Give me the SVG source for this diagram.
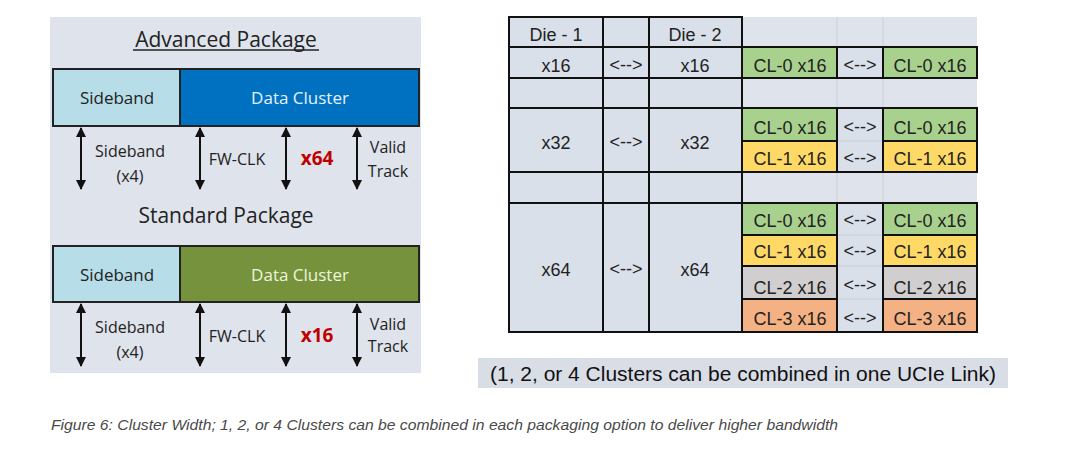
<svg xmlns="http://www.w3.org/2000/svg" width="1080" height="463" viewBox="0 0 1080 463">
<defs>
<marker id="ah" viewBox="0 0 10 10" refX="9" refY="5" markerWidth="5" markerHeight="5" orient="auto-start-reverse" markerUnits="strokeWidth">
<path d="M0,0 L10,5 L0,10 z" fill="#111"/>
</marker>
<style>
.lp{font-family:"Open Sans","Liberation Sans",sans-serif;fill:#222;text-anchor:middle}
.tb{font-family:"Liberation Sans",Arial,sans-serif;font-size:18px;fill:#222;text-anchor:middle}
.cell{fill:#dae0e9;stroke:#111;stroke-width:2}
.bar{stroke:#222;stroke-width:2}
.arr{stroke:#111;stroke-width:2;fill:none;marker-start:url(#ah);marker-end:url(#ah)}
.g{fill:#a9d18e}.y{fill:#ffd966}.gr{fill:#d0cece}.o{fill:#f4b183}
.cl{stroke:#111;stroke-width:2}
.faint{stroke:#c9ced8;stroke-width:1}
</style>
</defs>
<rect width="1080" height="463" fill="#ffffff"/>

<!-- Left panel -->
<g id="left-panel">
<rect x="50" y="17" width="371" height="356" fill="#dfe3eb"/>
</g>
<g id="advanced-title">
<text class="lp" x="226" y="47" font-size="21">Advanced Package</text>
<line x1="133" y1="50" x2="319" y2="50" stroke="#222" stroke-width="1.5"/>
</g>
<g id="adv-sideband">
<rect class="bar" x="53" y="69" width="127" height="57" fill="#b7dde8"/>
<text class="lp" x="117" y="104" font-size="17">Sideband</text>
</g>
<g id="adv-data">
<rect class="bar" x="180" y="69" width="239" height="57" fill="#0070c0"/>
<text class="lp" x="300" y="104" font-size="17" style="fill:#e6f2fb">Data Cluster</text>
</g>
<g id="adv-labels">
<text class="lp" x="130" y="157" font-size="16">Sideband</text>
<text class="lp" x="130" y="182" font-size="16">(x4)</text>
<text class="lp" x="237" y="165" font-size="16">FW-CLK</text>
<text class="lp" x="317" y="165" font-size="19" font-weight="bold" style="fill:#c00000">x64</text>
<text class="lp" x="388" y="153" font-size="16">Valid</text>
<text class="lp" x="388" y="177" font-size="16">Track</text>
</g>

<g id="standard-title">
<text class="lp" x="226" y="223" font-size="21">Standard Package</text>
</g>
<g id="std-sideband">
<rect class="bar" x="53" y="246" width="127" height="56" fill="#b7dde8"/>
<text class="lp" x="117" y="281" font-size="17">Sideband</text>
</g>
<g id="std-data">
<rect class="bar" x="180" y="246" width="239" height="56" fill="#76923c"/>
<text class="lp" x="300" y="281" font-size="17" style="fill:#eef5dc">Data Cluster</text>
</g>
<g id="std-labels">
<text class="lp" x="130" y="333" font-size="16">Sideband</text>
<text class="lp" x="130" y="358" font-size="16">(x4)</text>
<text class="lp" x="237" y="342" font-size="16">FW-CLK</text>
<text class="lp" x="317" y="342" font-size="19" font-weight="bold" style="fill:#c00000">x16</text>
<text class="lp" x="388" y="330" font-size="16">Valid</text>
<text class="lp" x="388" y="352" font-size="16">Track</text>
</g>

<g id="connectors">
<line class="arr" x1="81" y1="128" x2="81" y2="189"/>
<line class="arr" x1="200" y1="128" x2="200" y2="189"/>
<line class="arr" x1="286" y1="128" x2="286" y2="189"/>
<line class="arr" x1="357" y1="128" x2="357" y2="189"/>
<line class="arr" x1="81" y1="304" x2="81" y2="366"/>
<line class="arr" x1="200" y1="304" x2="200" y2="366"/>
<line class="arr" x1="286" y1="304" x2="286" y2="366"/>
<line class="arr" x1="357" y1="304" x2="357" y2="366"/>
</g>

<!-- Right table -->
<g id="table-bg">
<rect x="742" y="17" width="235" height="30" fill="#dfe3eb"/>
<rect x="742" y="78" width="235" height="30" fill="#dfe3eb"/>
<rect x="742" y="172" width="235" height="31" fill="#dfe3eb"/>
<line class="faint" x1="837" y1="17" x2="837" y2="47"/>
<line class="faint" x1="883" y1="17" x2="883" y2="47"/>
<line class="faint" x1="837" y1="78" x2="837" y2="108"/>
<line class="faint" x1="883" y1="78" x2="883" y2="108"/>
<line class="faint" x1="837" y1="172" x2="837" y2="203"/>
<line class="faint" x1="883" y1="172" x2="883" y2="203"/>
</g>
<g id="die-columns">
<rect class="cell" x="509" y="17" width="94" height="30"/>
<rect class="cell" x="603" y="17" width="46" height="30"/>
<rect class="cell" x="649" y="17" width="93" height="30"/>
<rect class="cell" x="509" y="47" width="94" height="31"/>
<rect class="cell" x="603" y="47" width="46" height="31"/>
<rect class="cell" x="649" y="47" width="93" height="31"/>
<rect class="cell" x="509" y="78" width="94" height="30"/>
<rect class="cell" x="603" y="78" width="46" height="30"/>
<rect class="cell" x="649" y="78" width="93" height="30"/>
<rect class="cell" x="509" y="108" width="94" height="64"/>
<rect class="cell" x="603" y="108" width="46" height="64"/>
<rect class="cell" x="649" y="108" width="93" height="64"/>
<rect class="cell" x="509" y="172" width="94" height="31"/>
<rect class="cell" x="603" y="172" width="46" height="31"/>
<rect class="cell" x="649" y="172" width="93" height="31"/>
<rect class="cell" x="509" y="203" width="94" height="129"/>
<rect class="cell" x="603" y="203" width="46" height="129"/>
<rect class="cell" x="649" y="203" width="93" height="129"/>
<text class="tb" x="556" y="41">Die - 1</text>
<text class="tb" x="695" y="41">Die - 2</text>
<text class="tb" x="556" y="72">x16</text>
<text class="tb" x="626" y="71" font-size="15">&lt;--&gt;</text>
<text class="tb" x="695" y="72">x16</text>
<text class="tb" x="556" y="149">x32</text>
<text class="tb" x="626" y="148" font-size="15">&lt;--&gt;</text>
<text class="tb" x="695" y="149">x32</text>
<text class="tb" x="556" y="276">x64</text>
<text class="tb" x="626" y="275" font-size="15">&lt;--&gt;</text>
<text class="tb" x="695" y="276">x64</text>
</g>

<g id="x16-clusters">
<rect x="837" y="47" width="46" height="31" fill="#dae0e9" class="cl"/>
<rect class="cl g" x="742" y="47" width="95" height="31"/>
<rect class="cl g" x="883" y="47" width="94" height="31"/>
<text class="tb" x="790" y="72">CL-0 x16</text>
<text class="tb" x="860" y="71" font-size="15">&lt;--&gt;</text>
<text class="tb" x="930" y="72">CL-0 x16</text>
</g>

<g id="x32-clusters">
<rect x="837" y="108" width="46" height="64" fill="#dae0e9" class="cl"/>
<line class="faint" x1="838" y1="141" x2="882" y2="141"/>
<rect class="cl g" x="742" y="108" width="95" height="33"/>
<rect class="cl y" x="742" y="141" width="95" height="31"/>
<rect class="cl g" x="883" y="108" width="94" height="33"/>
<rect class="cl y" x="883" y="141" width="94" height="31"/>
<text class="tb" x="790" y="134">CL-0 x16</text>
<text class="tb" x="860" y="133" font-size="15">&lt;--&gt;</text>
<text class="tb" x="930" y="134">CL-0 x16</text>
<text class="tb" x="790" y="165">CL-1 x16</text>
<text class="tb" x="860" y="164" font-size="15">&lt;--&gt;</text>
<text class="tb" x="930" y="165">CL-1 x16</text>
</g>

<g id="x64-clusters">
<rect x="837" y="203" width="46" height="129" fill="#dae0e9" class="cl"/>
<line class="faint" x1="838" y1="235" x2="882" y2="235"/>
<line class="faint" x1="838" y1="266" x2="882" y2="266"/>
<line class="faint" x1="838" y1="299" x2="882" y2="299"/>
<rect class="cl g" x="742" y="203" width="95" height="32"/>
<rect class="cl y" x="742" y="235" width="95" height="31"/>
<rect class="cl gr" x="742" y="266" width="95" height="33"/>
<rect class="cl o" x="742" y="299" width="95" height="33"/>
<rect class="cl g" x="883" y="203" width="94" height="32"/>
<rect class="cl y" x="883" y="235" width="94" height="31"/>
<rect class="cl gr" x="883" y="266" width="94" height="33"/>
<rect class="cl o" x="883" y="299" width="94" height="33"/>
<text class="tb" x="790" y="227">CL-0 x16</text>
<text class="tb" x="860" y="226" font-size="15">&lt;--&gt;</text>
<text class="tb" x="930" y="227">CL-0 x16</text>
<text class="tb" x="790" y="258">CL-1 x16</text>
<text class="tb" x="860" y="257" font-size="15">&lt;--&gt;</text>
<text class="tb" x="930" y="258">CL-1 x16</text>
<text class="tb" x="790" y="294">CL-2 x16</text>
<text class="tb" x="860" y="291" font-size="15">&lt;--&gt;</text>
<text class="tb" x="930" y="294">CL-2 x16</text>
<text class="tb" x="790" y="325">CL-3 x16</text>
<text class="tb" x="860" y="324" font-size="15">&lt;--&gt;</text>
<text class="tb" x="930" y="325">CL-3 x16</text>
</g>

<g id="note-box">
<rect x="478" y="358" width="530" height="30" fill="#d9dde6"/>
<text x="743" y="381" font-family="Liberation Sans, Arial, sans-serif" font-size="20" fill="#111" text-anchor="middle" textLength="506" lengthAdjust="spacingAndGlyphs">(1, 2, or 4 Clusters can be combined in one UCIe Link)</text>
</g>

<g id="figure-caption">
<text x="51" y="430" font-family="Liberation Sans, Arial, sans-serif" font-size="14" font-style="italic" fill="#4a4a4a" textLength="787" lengthAdjust="spacingAndGlyphs">Figure 6: Cluster Width; 1, 2, or 4 Clusters can be combined in each packaging option to deliver higher bandwidth</text>
</g>
</svg>
